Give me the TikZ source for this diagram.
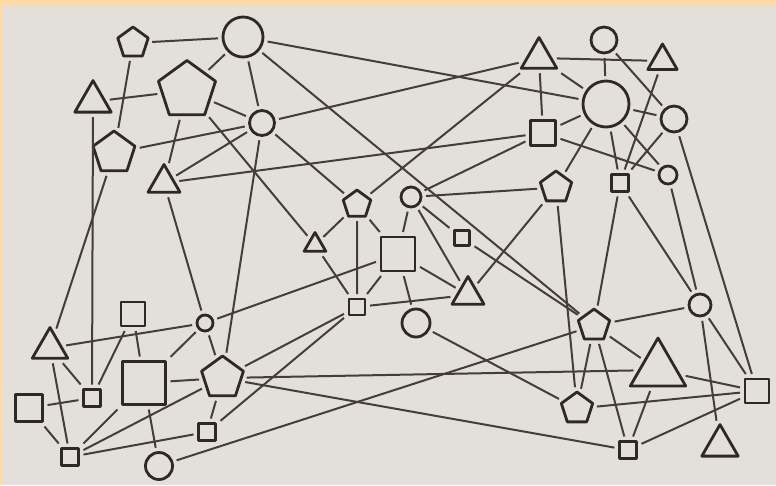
\documentclass[tikz,border=0pt]{standalone}
\usepackage{tikz}
\usetikzlibrary{shapes.geometric}

\definecolor{ink}{HTML}{302826}
\definecolor{paper}{HTML}{E3DFDB}
\definecolor{frame}{HTML}{FFD9A6}

\begin{document}
\begin{tikzpicture}[x=1pt,y=-1pt,
  shp/.style={draw=ink,line width=2.8pt,line join=round,inner sep=0pt,outer sep=5pt},
  tri/.style={shp,regular polygon,regular polygon sides=3,minimum size=#1},
  pent/.style={shp,regular polygon,regular polygon sides=5,minimum size=#1},
  sq/.style={shp,rectangle,minimum size=#1},
  circ/.style={shp,circle,minimum size=#1},
  link/.style={draw=ink!90,line width=2pt}]
\fill[frame] (0,0) rectangle (776,485);
\fill[paper] (3,6) rectangle (776,485);
\useasboundingbox (0,0) rectangle (776,485);

% top left group
\draw (133,43) node (p1) [pent=32] {};
\draw (243,37) node (c2) [circ=40] {};
\draw (93,101.6) node (t3) [tri=42] {};
\draw (187,90.5) node (p4) [pent=60] {};
\draw (262,123) node (c5) [circ=25] {};
\draw (114,153) node (p6) [pent=44] {};
\draw (164,183) node (t7) [tri=37] {};

% middle
\draw (357,204.5) node (p8) [pent=29] {};
\draw (315,245) node (t9) [tri=25] {};
\draw (411,197) node (c19) [circ=20] {};
\draw (462,238) node (s20) [sq=15] {};
\draw (398,254) node (s21) [sq=34] {};
\draw (357,307) node (s32) [sq=16] {};
\draw (468,295) node (t36) [tri=37] {};
\draw (416,323) node (c37) [circ=28] {};

% top right group
\draw (539,58) node (t10) [tri=41] {};
\draw (604,40) node (c11) [circ=26] {};
\draw (662.5,61) node (t12) [tri=34] {};
\draw (606,104) node (c13) [circ=46] {};
\draw (674,119) node (c14) [circ=26] {};
\draw (543,133) node (s15) [sq=25] {};
\draw (668,175) node (c16) [circ=18] {};
\draw (556,187.5) node (p17) [pent=33] {};
\draw (620,183) node (s18) [sq=17] {};

% bottom left group
\draw (50,348) node (t22) [tri=41] {};
\draw (133,314) node (s23) [sq=24] {};
\draw (205,323) node (c24) [circ=16] {};
\draw (92,398) node (s25) [sq=17] {};
\draw (144,383) node (s26) [sq=43] {};
\draw (222.5,378) node (p27) [pent=44] {};
\draw (29,408) node (s28) [sq=27] {};
\draw (70,457) node (s29) [sq=17] {};
\draw (207,432) node (s30) [sq=17] {};
\draw (159,466) node (c31) [circ=27] {};

% bottom right group
\draw (594,325.6) node (p38) [pent=33] {};
\draw (700,305) node (c39) [circ=22] {};
\draw (658,370) node (t40) [tri=64] {};
\draw (757,391) node (s41) [sq=24] {};
\draw (577,408.5) node (p42) [pent=33] {};
\draw (628,450) node (s43) [sq=17] {};
\draw (720,445.6) node (t44) [tri=42] {};

% links
\draw[link] (p1) -- (c2) (p1) -- (p6);
\draw[link] (t3) -- (p4) (t3) -- (s25);
\draw[link] (c2) -- (p4) (c2) -- (c5) (c2) -- (c13) (c2) -- (p38);
\draw[link] (p4) -- (c5) (p4) -- (t7) (p4) -- (t9);
\draw[link] (c5) -- (p6) (c5) -- (t7) (c5) -- (t10) (c5) -- (p8) (c5) -- (p27);
\draw[link] (p6) -- (t22);
\draw[link] (t7) -- (s15) (t7) -- (c24);
\draw[link] (p8) -- (t9) (p8) -- (s32) (p8) -- (s21) (p8) -- (t10);
\draw[link] (t9) -- (s32);
\draw[link] (t10) -- (t12) (t10) -- (c13) (t10) -- (s15);
\draw[link] (c11) -- (c13) (c11) -- (c14);
\draw[link] (t12) -- (s18);
\draw[link] (c13) -- (c14) (c13) -- (s15) (c13) -- (c16) (c13) -- (p17) (c13) -- (s18);
\draw[link] (c14) -- (s18) (c14) -- (s41);
\draw[link] (s15) -- (c16) (s15) -- (c19);
\draw[link] (c16) -- (c39);
\draw[link] (p17) -- (c19) (p17) -- (t36) (p17) -- (p42);
\draw[link] (s18) -- (p38) (s18) -- (c39);
\draw[link] (c19) -- (s21) (c19) -- (s20) (c19) -- (t36);
\draw[link] (s20) -- (p38);
\draw[link] (s21) -- (t36) (s21) -- (s32) (s21) -- (c37) (s21) -- (c24);
\draw[link] (s32) -- (t36) (s32) -- (p27) (s32) -- (s30);
\draw[link] (c37) -- (p42);
\draw[link] (t22) -- (c24) (t22) -- (s25) (t22) -- (s29);
\draw[link] (s23) -- (s25) (s23) -- (s26);
\draw[link] (c24) -- (s26) (c24) -- (p27);
\draw[link] (s25) -- (s28);
\draw[link] (s26) -- (p27) (s26) -- (c31) (s26) -- (s29);
\draw[link] (p27) -- (s30) (p27) -- (s29) (p27) -- (t40) (p27) -- (s43);
\draw[link] (s28) -- (s29);
\draw[link] (s29) -- (s30);
\draw[link] (c31) -- (p38);
\draw[link] (p38) -- (c39) (p38) -- (t40) (p38) -- (p42) (p38) -- (s43);
\draw[link] (c39) -- (s41) (c39) -- (t44);
\draw[link] (t40) -- (s41) (t40) -- (s43);
\draw[link] (p42) -- (s41);
\draw[link] (s43) -- (s41);
\end{tikzpicture}
\end{document}
